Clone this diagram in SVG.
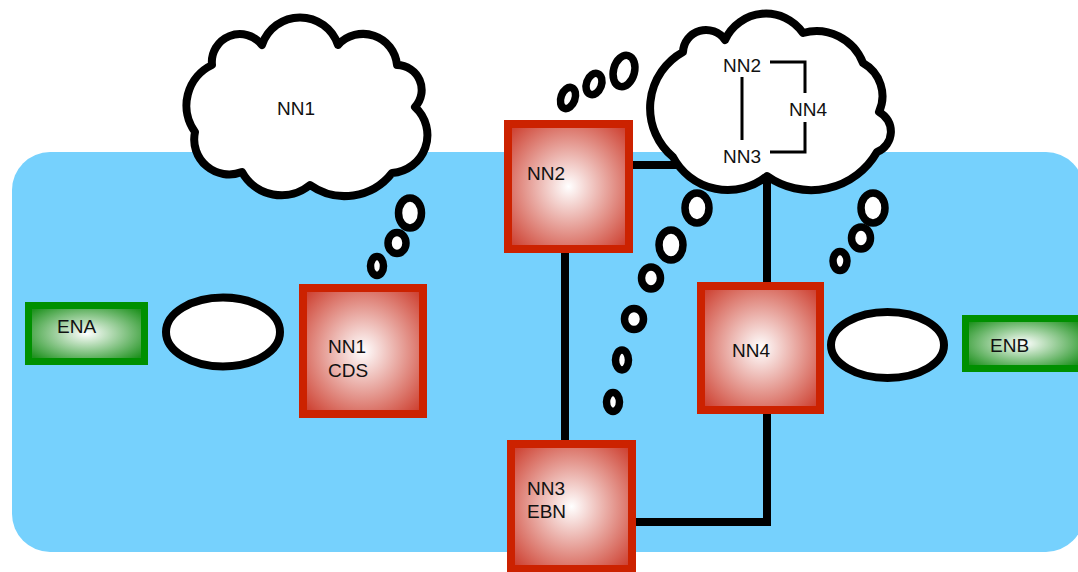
<svg xmlns="http://www.w3.org/2000/svg" width="1078" height="572" viewBox="0 0 1078 572">
  <defs>
    <radialGradient id="redFill" cx="0.5" cy="0.5" r="0.72">
      <stop offset="0" stop-color="#FFFFFF"/>
      <stop offset="1" stop-color="#C92F1E"/>
    </radialGradient>
    <radialGradient id="greenFill" cx="0.5" cy="0.5" r="0.62">
      <stop offset="0" stop-color="#FFFFFF"/>
      <stop offset="1" stop-color="#1F921F"/>
    </radialGradient>
  </defs>
  <style>
    .bg { fill: #76D1FD; }
    .box { fill: url(#redFill); stroke: #CC2200; stroke-width: 8; }
    .env { fill: url(#greenFill); stroke: #009000; stroke-width: 7; }
    .cloud { fill: #FFFFFF; stroke: #000000; stroke-width: 8; stroke-linejoin: round; }
    .bubble { fill: #FFFFFF; stroke: #000000; stroke-width: 7.5; }
    .oval { fill: #FFFFFF; stroke: #000000; stroke-width: 8; }
    .wire { fill: none; stroke: #000000; stroke-width: 8; }
    .thin { fill: none; stroke: #000000; stroke-width: 3; }
    text { font-family: "Liberation Sans", Arial, Helvetica, sans-serif; font-size: 19px; fill: #111111; }
  </style>

  <!-- background membrane -->
  <rect class="bg" x="12" y="152" width="1072" height="400" rx="38"/>

  <!-- connectors -->
  <g id="connectors">
    <line class="wire" x1="565" y1="250" x2="565" y2="444"/>
    <line class="wire" x1="629" y1="165" x2="680" y2="165"/>
    <line class="wire" x1="767" y1="170" x2="767" y2="286"/>
    <polyline class="wire" points="767,410 767,522 632,522"/>
  </g>

  <!-- thought cloud above NN1 -->
  <g id="cloud1">
    <path class="cloud" d="M212,65 A28,28 0 0 1 262,45 A40,40 0 0 1 338,45 A34,34 0 0 1 397,65 A25,25 0 0 1 415,107 A38,38 0 0 1 392,173 A60,60 0 0 1 310,185 A45,45 0 0 1 242,172 A35,35 0 0 1 195,132 A45,45 0 0 1 212,65 Z"/>
    <text x="277" y="115">NN1</text>
  </g>

  <!-- thought cloud above NN4 with inner sketch -->
  <g id="cloud2">
    <path class="cloud" d="M683,52 A23,23 0 0 1 725,40 A45,45 0 0 1 803,33 A50,50 0 0 1 863,63 A38,38 0 0 1 879,112 A22,22 0 0 1 877,152 A76,76 0 0 1 767,176 A62,62 0 0 1 673,157 A64,64 0 0 1 683,52 Z"/>
    <text x="723" y="72">NN2</text>
    <text x="723" y="163">NN3</text>
    <text x="789" y="116">NN4</text>
    <line class="thin" x1="742" y1="77" x2="742" y2="140"/>
    <polyline class="thin" points="770,62 805,62 805,93"/>
    <polyline class="thin" points="805,122 805,152 770,152"/>
  </g>

  <!-- thought bubbles -->
  <g id="bubbles">
    <ellipse class="bubble" cx="410" cy="213" rx="11.5" ry="15"/>
    <ellipse class="bubble" cx="397" cy="243" rx="9" ry="10.5"/>
    <ellipse class="bubble" cx="377" cy="266" rx="6.5" ry="9.5"/>

    <ellipse class="bubble" cx="568" cy="98" rx="7" ry="11" transform="rotate(20 568 98)"/>
    <ellipse class="bubble" cx="594" cy="84" rx="7.5" ry="11" transform="rotate(20 594 84)"/>
    <ellipse class="bubble" cx="624" cy="71" rx="10.5" ry="16" transform="rotate(15 624 71)"/>

    <ellipse class="bubble" cx="697" cy="208" rx="12" ry="15"/>
    <ellipse class="bubble" cx="671" cy="245" rx="12" ry="15"/>
    <ellipse class="bubble" cx="651" cy="278" rx="9.5" ry="11"/>
    <ellipse class="bubble" cx="634" cy="319" rx="9.5" ry="10.5"/>
    <ellipse class="bubble" cx="622" cy="360" rx="6.5" ry="10"/>
    <ellipse class="bubble" cx="613" cy="402" rx="6.5" ry="9.5"/>

    <ellipse class="bubble" cx="873" cy="208" rx="12" ry="15"/>
    <ellipse class="bubble" cx="861" cy="238" rx="9.5" ry="11"/>
    <ellipse class="bubble" cx="840" cy="261" rx="7" ry="9.5"/>
  </g>

  <!-- empty channel ovals -->
  <g id="ovalA">
    <ellipse class="oval" cx="223" cy="332" rx="57" ry="34.5"/>
  </g>
  <g id="ovalB">
    <ellipse class="oval" cx="887.5" cy="345" rx="56.5" ry="33"/>
  </g>

  <!-- environment nodes -->
  <g id="ENA">
    <rect class="env" x="28.5" y="305.5" width="116" height="56"/>
    <text x="57" y="333">ENA</text>
  </g>
  <g id="ENB">
    <rect class="env" x="965.5" y="318.5" width="116" height="50"/>
    <text x="990" y="352">ENB</text>
  </g>

  <!-- neuron nodes -->
  <g id="NN1">
    <rect class="box" x="303" y="288" width="120" height="126"/>
    <text x="328" y="353">NN1</text>
    <text x="328" y="377">CDS</text>
  </g>
  <g id="NN2">
    <rect class="box" x="508" y="124" width="121" height="125"/>
    <text x="527" y="180">NN2</text>
  </g>
  <g id="NN3">
    <rect class="box" x="511" y="444" width="121" height="125"/>
    <text x="527" y="495">NN3</text>
    <text x="527" y="518">EBN</text>
  </g>
  <g id="NN4">
    <rect class="box" x="701" y="286" width="119" height="124"/>
    <text x="732" y="357">NN4</text>
  </g>
</svg>
